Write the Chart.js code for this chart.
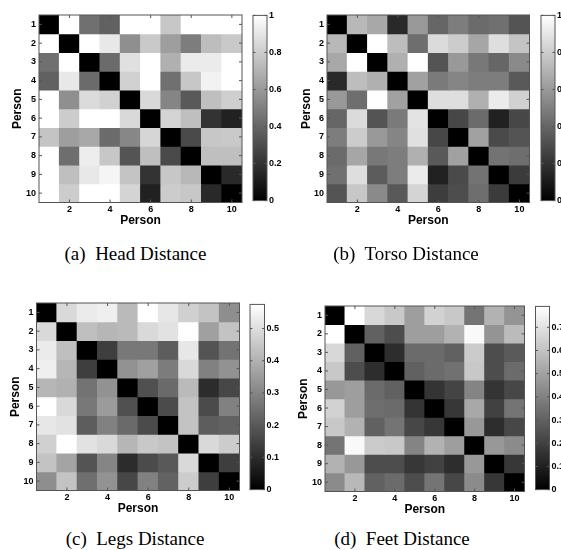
<!DOCTYPE html>
<html><head><meta charset="utf-8">
<script src="https://cdn.jsdelivr.net/npm/chart.js@4"></script>
<style>
html,body{margin:0;padding:0;overflow:hidden;background:#fff;}
#wrap{position:relative;width:561px;height:550px;overflow:hidden;background:#fff;}
#wrap canvas{position:absolute;}
.cap{position:absolute;font-family:"Liberation Serif","Times New Roman",serif;font-size:19px;white-space:pre;transform:translate(-50%,-50%);color:#000;line-height:1;}
</style></head><body>
<div id="wrap"></div>
<script>
// ---------- data ----------
const persons = ['1','2','3','4','5','6','7','8','9','10'];
const xTickShown = ['2','4','6','8','10'];

const headDist = [
[0, 1, 0.44, 0.38, 1, 1, 0.78, 1, 1, 1],
[1, 0, 1, 0.91, 0.56, 0.79, 0.62, 0.49, 0.74, 0.79],
[0.44, 1, 0, 0.42, 0.88, 1, 0.69, 0.92, 0.92, 1],
[0.38, 0.91, 0.42, 0, 0.82, 1, 0.44, 0.78, 0.95, 1],
[1, 0.56, 0.86, 0.82, 0, 0.85, 0.52, 0.35, 0.75, 0.81],
[1, 0.80, 1, 1, 0.85, 0, 0.83, 0.75, 0.20, 0.13],
[0.77, 0.62, 0.66, 0.42, 0.53, 0.84, 0, 0.29, 0.78, 0.79],
[1, 0.43, 0.93, 0.78, 0.33, 0.75, 0.29, 0, 0.75, 0.75],
[1, 0.75, 0.91, 0.96, 0.77, 0.20, 0.78, 0.72, 0, 0.16],
[1, 0.80, 1, 1, 0.83, 0.13, 0.80, 0.78, 0.16, 0]
];
const torsoDist = [
[0, 0.72, 0.66, 0.16, 0.60, 0.40, 0.49, 0.42, 0.44, 0.33],
[0.72, 0, 1.0, 0.74, 0.43, 0.86, 0.80, 0.65, 0.87, 0.77],
[0.66, 1.0, 0, 0.69, 1.0, 0.33, 0.60, 0.47, 0.40, 0.54],
[0.16, 0.74, 0.69, 0, 0.63, 0.48, 0.52, 0.49, 0.49, 0.35],
[0.60, 0.43, 1.0, 0.63, 0, 0.87, 0.87, 0.69, 0.92, 0.82],
[0.40, 0.86, 0.33, 0.48, 0.89, 0, 0.28, 0.42, 0.13, 0.28],
[0.49, 0.80, 0.60, 0.52, 0.88, 0.28, 0, 0.63, 0.29, 0.33],
[0.42, 0.65, 0.47, 0.49, 0.69, 0.35, 0.63, 0, 0.45, 0.43],
[0.44, 0.87, 0.36, 0.49, 0.92, 0.13, 0.29, 0.45, 0, 0.23],
[0.33, 0.78, 0.54, 0.35, 0.83, 0.24, 0.30, 0.43, 0.23, 0]
];
const legsDist = [
[0, 0.49, 0.53, 0.54, 0.42, 0.575, 0.52, 0.47, 0.44, 0.32],
[0.49, 0, 0.43, 0.41, 0.42, 0.49, 0.51, 0.575, 0.36, 0.44],
[0.53, 0.43, 0, 0.14, 0.27, 0.27, 0.21, 0.52, 0.19, 0.26],
[0.54, 0.41, 0.14, 0, 0.33, 0.36, 0.28, 0.49, 0.29, 0.33],
[0.41, 0.40, 0.26, 0.33, 0, 0.18, 0.24, 0.42, 0.10, 0.16],
[0.575, 0.49, 0.27, 0.35, 0.18, 0, 0.17, 0.44, 0.17, 0.29],
[0.52, 0.51, 0.21, 0.29, 0.24, 0.17, 0, 0.44, 0.21, 0.22],
[0.47, 0.575, 0.51, 0.49, 0.41, 0.45, 0.44, 0, 0.49, 0.46],
[0.44, 0.37, 0.19, 0.30, 0.10, 0.17, 0.20, 0.49, 0, 0.14],
[0.32, 0.44, 0.25, 0.33, 0.16, 0.29, 0.22, 0.46, 0.14, 0]
];
const feetDist = [
[0, 0.79, 0.67, 0.62, 0.49, 0.65, 0.62, 0.36, 0.55, 0.46],
[0.79, 0, 0.30, 0.24, 0.49, 0.49, 0.55, 0.77, 0.46, 0.58],
[0.67, 0.30, 0, 0.14, 0.33, 0.33, 0.30, 0.63, 0.24, 0.28],
[0.62, 0.24, 0.14, 0, 0.30, 0.33, 0.35, 0.62, 0.24, 0.33],
[0.47, 0.49, 0.33, 0.30, 0, 0.16, 0.21, 0.41, 0.16, 0.22],
[0.65, 0.49, 0.34, 0.33, 0.16, 0, 0.17, 0.52, 0.20, 0.36],
[0.62, 0.55, 0.30, 0.36, 0.22, 0.17, 0, 0.47, 0.14, 0.22],
[0.36, 0.77, 0.63, 0.62, 0.41, 0.55, 0.49, 0, 0.47, 0.43],
[0.55, 0.47, 0.24, 0.24, 0.17, 0.20, 0.14, 0.47, 0, 0.17],
[0.43, 0.57, 0.30, 0.33, 0.24, 0.36, 0.22, 0.43, 0.17, 0]
];

const headMax = 1, torsoMax = 1, legsMax = 0.575, feetMax = 0.79;
const headTicks  = [0, 0.2, 0.4, 0.6, 0.8, 1];
const torsoTicks = [0, 0.2, 0.4, 0.6, 0.8, 1];
const legsTicks  = [0, 0.1, 0.2, 0.3, 0.4, 0.5];
const feetTicks  = [0, 0.1, 0.2, 0.3, 0.4, 0.5, 0.6, 0.7];
const captions = ['(a)  Head Distance', '(b)  Torso Distance', '(c)  Legs Distance', '(d)  Feet Distance'];
const axisTitle = 'Person';

// ---------- layout ----------
const panels = [
 {m: headDist,  vmax: headMax,  ticks: headTicks,  cap: captions[0], cx: 0,   L: 39,  R: 242,   T: 14.5, B: 202,   CL: 253,   CR: 267,   YT: 18,  XT: 220, capX: 135.5, capY: 253},
 {m: torsoDist, vmax: torsoMax, ticks: torsoTicks, cap: captions[1], cx: 290, L: 327, R: 529.5, T: 14.5, B: 202,   CL: 541,   CR: 555,   YT: 307, XT: 220, capX: 406,   capY: 253},
 {m: legsDist,  vmax: legsMax,  ticks: legsTicks,  cap: captions[2], cx: 0,   L: 36.5,R: 239.5, T: 303,  B: 490.5, CL: 250,   CR: 264.5, YT: 16,  XT: 509, capX: 135,   capY: 538},
 {m: feetDist,  vmax: feetMax,  ticks: feetTicks,  cap: captions[3], cx: 290, L: 325, R: 524.5, T: 305.5,B: 491,   CL: 535.5, CR: 549.5, YT: 303.5,XT: 509, capX: 402,  capY: 538}
];

const wrap = document.getElementById('wrap');
const tickFont = {family: '"Liberation Sans", Arial, Helvetica, sans-serif', size: 9, weight: 'bold'};
const titleFont = {family: '"Liberation Sans", Arial, Helvetica, sans-serif', size: 12, weight: 'bold', lineHeight: 1.2};
const frameColor = '#555';

function gray(v, vmax){
  const g = Math.round(255 * Math.min(1, Math.max(0, v / vmax)));
  return `rgb(${g},${g},${g})`;
}
function mkCanvas(x, y, w, h){
  const cv = document.createElement('canvas');
  cv.width = w; cv.height = h;
  cv.style.left = x + 'px'; cv.style.top = y + 'px';
  cv.style.width = w + 'px'; cv.style.height = h + 'px';
  wrap.appendChild(cv);
  return cv;
}

const heatFrame = {
  id: 'heatFrame',
  afterDraw(chart){
    const {ctx, chartArea: a, scales} = chart;
    ctx.save();
    ctx.strokeStyle = frameColor; ctx.lineWidth = 1;
    ctx.strokeRect(a.left, a.top, a.right - a.left, a.bottom - a.top);
    ctx.beginPath();
    persons.forEach((p, i) => {
      if (xTickShown.includes(p)) {
        const x = scales.x.getPixelForValue(i);
        ctx.moveTo(x, a.top); ctx.lineTo(x, a.top + 3);
        ctx.moveTo(x, a.bottom); ctx.lineTo(x, a.bottom - 3);
      }
      const y = scales.y.getPixelForValue(+p);
      ctx.moveTo(a.left, y); ctx.lineTo(a.left + 3, y);
      ctx.moveTo(a.right, y); ctx.lineTo(a.right - 3, y);
    });
    ctx.stroke();
    ctx.restore();
  }
};
const barFrame = {
  id: 'barFrame',
  afterDraw(chart){
    const {ctx, chartArea: a, scales} = chart;
    ctx.save();
    ctx.strokeStyle = frameColor; ctx.lineWidth = 1;
    ctx.strokeRect(a.left, a.top, a.right - a.left, a.bottom - a.top);
    ctx.beginPath();
    scales.y.ticks.forEach(t => {
      const y = scales.y.getPixelForValue(t.value);
      ctx.moveTo(a.left, y); ctx.lineTo(a.left + 2.5, y);
      ctx.moveTo(a.right, y); ctx.lineTo(a.right - 2.5, y);
    });
    ctx.stroke();
    ctx.restore();
  }
};

function fmt(v){
  if (v === 0) return '0';
  if (v === 1) return '1';
  return v.toFixed(1);
}

function makeHeat(p){
  const cx = p.cx, cy = p.T - 10;
  const w = Math.round(p.R - cx + 5), h = Math.round(p.XT + 12 - cy);
  const cv = mkCanvas(cx, cy, w, h);
  const datasets = p.m.map((row, r) => ({
    data: row.map(() => [r + 0.5, r + 1.5]),
    backgroundColor: row.map(v => gray(v, p.vmax)),
    borderWidth: 0,
    barPercentage: 1,
    categoryPercentage: 1,
    inflateAmount: 0.4,
    grouped: false
  }));
  new Chart(cv, {
    type: 'bar',
    data: {labels: persons, datasets},
    options: {
      responsive: false, animation: false, devicePixelRatio: 1,
      events: [],
      layout: {padding: {left: 0, top: p.T - cy, right: w - (p.R - cx), bottom: 0}},
      plugins: {legend: {display: false}, tooltip: {enabled: false}},
      scales: {
        x: {
          type: 'category', offset: true,
          grid: {display: false, drawTicks: false}, border: {display: false},
          ticks: {font: tickFont, color: '#000', padding: 2, autoSkip: false, maxRotation: 0,
            callback: (v, i) => xTickShown.includes(persons[i]) ? persons[i] : ''},
          title: {display: true, text: axisTitle, font: titleFont, color: '#000',
            padding: {top: 0, bottom: (cy + h) - 7.2 - p.XT}},
          afterFit: s => { s.height = h - (p.B - cy); }
        },
        y: {
          type: 'linear', min: 0.5, max: 10.5, reverse: true,
          afterBuildTicks: s => { s.ticks = persons.map(v => ({value: +v})); },
          grid: {display: false, drawTicks: false}, border: {display: false},
          ticks: {font: tickFont, color: '#000', padding: 3, callback: v => String(v)},
          title: {display: true, text: axisTitle, font: titleFont, color: '#000',
            padding: {top: p.YT - cx - 7.2, bottom: 0}},
          afterFit: s => { s.width = p.L - cx; }
        }
      }
    },
    plugins: [heatFrame]
  });
}

function makeBar(p){
  const cx = Math.floor(p.CL) - 1, cy = Math.floor(p.T) - 6;
  const w = Math.min(40, 561 - cx), h = Math.round(p.B - cy + 6);
  const cv = mkCanvas(cx, cy, w, h);
  new Chart(cv, {
    type: 'bar',
    data: {labels: ['scale'], datasets: [{
      data: [p.vmax],
      backgroundColor: (c) => {
        const a = c.chart.chartArea;
        if (!a) return '#888';
        const y = c.chart.scales.y;
        const g = c.chart.ctx.createLinearGradient(0, y.getPixelForValue(0), 0, y.getPixelForValue(p.vmax));
        g.addColorStop(0, '#000'); g.addColorStop(1, '#fff');
        return g;
      },
      borderWidth: 0, barPercentage: 1, categoryPercentage: 1
    }]},
    options: {
      responsive: false, animation: false, devicePixelRatio: 1,
      events: [],
      layout: {padding: {left: p.CL - cx, top: p.T - cy, right: 0, bottom: h - (p.B - cy)}},
      plugins: {legend: {display: false}, tooltip: {enabled: false}},
      scales: {
        x: {display: false, offset: true},
        y: {
          position: 'right', min: 0, max: p.vmax,
          afterBuildTicks: s => { s.ticks = p.ticks.map(v => ({value: v})); },
          grid: {display: false, drawTicks: false}, border: {display: false},
          ticks: {font: tickFont, color: '#000', padding: 2, callback: v => fmt(v)},
          afterFit: s => { s.width = w - (p.CR - cx); }
        }
      }
    },
    plugins: [barFrame]
  });
}

panels.forEach(p => {
  makeHeat(p);
  makeBar(p);
  const d = document.createElement('div');
  d.className = 'cap';
  d.textContent = p.cap;
  d.style.left = p.capX + 'px';
  d.style.top = p.capY + 'px';
  wrap.appendChild(d);
});
</script>
</body></html>
